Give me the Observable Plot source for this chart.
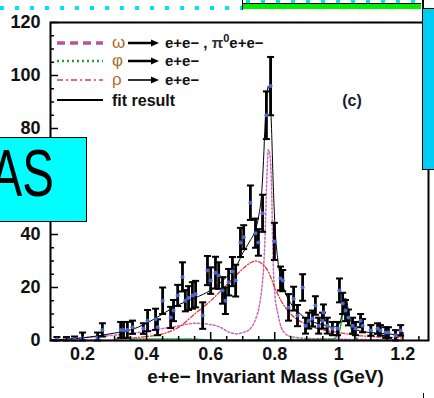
<!DOCTYPE html>
<html>
<head>
<meta charset="utf-8">
<script src="https://cdn.jsdelivr.net/npm/d3@7"></script>
<script src="https://cdn.jsdelivr.net/npm/@observablehq/plot@0.6"></script>
<style>
  html, body { margin: 0; padding: 0; background: #fff; }
  #wrap { position: relative; width: 434px; height: 398px; overflow: hidden; font-family: "Liberation Sans", Arial, sans-serif; }
  #wrap > * { position: absolute; }
</style>
</head>
<body>
<div id="wrap"></div>
<script>
// ---- data points (mass in GeV, counts, error) ----
const massPts = [0.12,0.15,0.175,0.200,0.247,0.262,0.319,0.328,0.340,0.356,0.390,0.403,0.428,0.434,0.450,0.475,0.484,0.497,0.512,0.521,0.531,0.543,0.553,0.575,0.590,0.600,0.615,0.625,0.637,0.646,0.656,0.668,0.678,0.693,0.703,0.724,0.740,0.749,0.762,0.774,0.787,0.799,0.818,0.825,0.843,0.859,0.871,0.887,0.896,0.906,0.918,0.927,0.937,0.949,0.952,0.964,0.980,0.996,1.002,1.012,1.021,1.030,1.043,1.052,1.068,1.074,1.100,1.121,1.130,1.146,1.155,1.177,1.193];
const countPts = [0.5,0.5,0.5,1,1,4,4,4,4,5,4.5,7.5,8,5,15,8.7,11.3,17,24,15,16,17,17.5,9.4,26.4,22.6,25.6,24.5,18.9,15,22,26,22.6,37,39,52,40.5,37,48,85,96,37.4,23.4,22.6,12.5,15.8,9.4,20,5.6,7.5,8.3,13.2,5.6,7.5,10.6,5.6,4.5,4.5,18.9,14,11.3,8.7,5.6,4.5,7.5,5.6,3.8,4.5,3.8,3,3,1.9,3.8];
const errPts = [0.8,0.8,1,2,2,2.5,3,3,3,2.5,2,4,4,3,5,4,4,4,5.5,4,4.5,5,5,5,5.5,5,6,5,5,5,5,5.5,6,5.5,4.5,6.5,5.5,5,7,9,11,7,4.5,4,5,4.5,4,5,3,3,3,3.5,3,3,3,3,2.5,2.5,4.5,4,4,3,3,2.5,2.5,2.5,2,2,2,2,2,2,2];

// ---- fit result ----
const fitMass = [0.10,0.15,0.20,0.25,0.30,0.35,0.40,0.45,0.50,0.55,0.60,0.65,0.68,0.70,0.72,0.74,0.75,0.76,0.765,0.77,0.775,0.78,0.785,0.79,0.795,0.80,0.81,0.82,0.83,0.85,0.88,0.90,0.95,0.98,1.00,1.01,1.015,1.02,1.025,1.03,1.04,1.05,1.07,1.10,1.15,1.20];
const fitValue = [0.3,0.5,1,1.8,2.8,4,6.5,10,13.5,16,19,24,28,33,37,42,47,57,68,82,92,96,93,80,60,45,30,23,19,14,10,8,6,5,6,10,14,16,15,11,6.5,4.5,3.5,3,2.5,2];

// ---- omega -> e+e-, pi0 e+e- ----
const omegaMass = [0.10,0.20,0.30,0.40,0.45,0.50,0.55,0.60,0.63,0.66,0.68,0.70,0.72,0.74,0.75,0.76,0.765,0.77,0.775,0.78,0.785,0.79,0.795,0.80,0.81,0.82,0.83,0.85,0.90,1.00,1.20];
const omegaValue = [0,1,2,3.5,4.5,5.5,6.5,6,5,3,2.5,3,4,8,12,20,27,40,60,72,70,58,30,18,10,5,3,1.5,0.8,0.5,0.2];

// ---- rho -> e+e- ----
const rhoMass = [0.30,0.40,0.45,0.50,0.55,0.60,0.65,0.70,0.72,0.74,0.76,0.78,0.80,0.82,0.85,0.90,0.95,1.00,1.05,1.10,1.20];
const rhoValue = [0.5,1.5,2.5,5,10,15,21,27,29,30,29,26,20,15,10,6,4,3,2,1.5,1];

// ---- phi -> e+e- ----
const phiMass = [0.35,0.45,0.55,0.60,0.98,0.99,1.00,1.01,1.015,1.02,1.025,1.03,1.04,1.05,1.06];
const phiValue = [0.5,0.6,0.5,0.2,0.5,1,3,8,12,14,13,9,4,1.5,0.5];

// ---- baseline ----
const baseMass = [0.1, 1.2];
const baseValue = [0, 0];

// ---- ticks ----
const xTickValues = [0.2,0.4,0.6,0.8,1.0,1.2];
const xTickLabels = ["0.2","0.4","0.6","0.8","1","1.2"];
const xMinor = [0.15,0.25,0.3,0.35,0.45,0.5,0.55,0.65,0.7,0.75,0.85,0.9,0.95,1.05,1.1,1.15,1.25];
const yTickValues = [0,20,40,60,80,100,120];
const yMinor = [5,10,15,25,30,35,45,50,55,65,70,75,85,90,95,105,110,115];
const xLabel = "e+e\u2212 Invariant Mass (GeV)";

const points = massPts.map((m, i) => ({m, v: countPts[i], e: errPts[i]}));
const series = (ms, vs) => ms.map((m, i) => ({m, v: vs[i]}));
const fit = series(fitMass, fitValue);
const omega = series(omegaMass, omegaValue);
const rho = series(rhoMass, rhoValue);
const phi = series(phiMass, phiValue);
const base = series(baseMass, baseValue);

const capSymbol = { draw(ctx, size) { const w = Math.sqrt(size / Math.PI); ctx.moveTo(-w, 0); ctx.lineTo(w, 0); } };
const font = {fontSize: 18, fontWeight: "bold", fill: "#111"};

const chart = Plot.plot({
  width: 434, height: 398,
  marginLeft: 50, marginRight: 6, marginTop: 22, marginBottom: 58,
  style: {fontFamily: "Liberation Sans, Arial, sans-serif", background: "white", overflow: "visible"},
  x: {domain: [0.1, 1.28], axis: null},
  y: {domain: [0, 120], axis: null},
  marks: [
    Plot.line(base, {x: "m", y: "v", stroke: "#3355cc", strokeWidth: 1.5}),
    Plot.line(omega, {x: "m", y: "v", stroke: "#c868b8", strokeWidth: 1.5, strokeDasharray: "2,2", curve: "monotone-x"}),
    Plot.line(rho, {x: "m", y: "v", stroke: "#e83030", strokeWidth: 1.3, strokeDasharray: "4,2,1,2", curve: "monotone-x"}),
    Plot.line(phi, {x: "m", y: "v", stroke: "#229933", strokeWidth: 1.5, strokeDasharray: "1.5,1.5", curve: "monotone-x"}),
    Plot.line(fit, {x: "m", y: "v", stroke: "#000", strokeWidth: 1, curve: "monotone-x"}),
    Plot.ruleX(points, {x: "m", y1: d => Math.max(0, d.v - d.e), y2: d => d.v + d.e, stroke: "#000", strokeWidth: 2.8}),
    Plot.dot(points, {x: "m", y: d => d.v + d.e, symbol: capSymbol, r: 3.5, stroke: "#000", strokeWidth: 2, fill: "none"}),
    Plot.dot(points, {x: "m", y: d => Math.max(0, d.v - d.e), symbol: capSymbol, r: 3.5, stroke: "#000", strokeWidth: 2, fill: "none"}),
    Plot.dot(points, {x: "m", y: "v", r: 2, fill: "#4a68d0"}),
    Plot.frame({stroke: "#000", strokeWidth: 2}),
    Plot.axisY({ticks: yTickValues, label: null, tickSize: -8, tickPadding: 18, strokeWidth: 1.5, ...font}),
    Plot.axisY({ticks: yMinor, label: null, tickSize: -4, tickFormat: () => "", strokeWidth: 1.5}),
    Plot.axisX({ticks: xTickValues, label: null, tickSize: -8, tickPadding: 15, strokeWidth: 1.5, tickFormat: d => xTickLabels[xTickValues.indexOf(d)], ...font}),
    Plot.axisX({ticks: xMinor, label: null, tickSize: -4, tickFormat: () => "", strokeWidth: 1.5}),
    Plot.text([xLabel], {frameAnchor: "bottom", dx: 26, dy: 42, text: d => d, fontSize: 19, fontWeight: "bold", fill: "#111"})
  ]
});
const wrap = document.getElementById("wrap");
chart.style.left = "0px"; chart.style.top = "0px";
wrap.appendChild(chart);

// ---- legend (overlay svg) ----
const svg = d3.select(wrap).append("svg").attr("width", 434).attr("height", 398)
  .style("left", "0px").style("top", "0px").style("pointer-events", "none")
  .style("font-family", "Liberation Sans, Arial, sans-serif");
const legend = [
  {y: 43, stroke: "#b0559f", w: 3.5, dash: "8,5", greek: "\u03c9", rest: "e+e\u2212 , ", pi: true, arrowW: 2.5},
  {y: 61, stroke: "#2a9a40", w: 2.5, dash: "2,3", greek: "\u03c6", rest: "e+e\u2212", arrowW: 2.5},
  {y: 80, stroke: "#e03a3a", w: 1.5, dash: "6,3,2,3", greek: "\u03c1", rest: "e+e\u2212", arrowW: 1.6},
  {y: 100, stroke: "#000", w: 2, dash: null, text: "fit result"}
];
legend.forEach(r => {
  svg.append("line").attr("x1", 57).attr("x2", 103).attr("y1", r.y).attr("y2", r.y)
    .attr("stroke", r.stroke).attr("stroke-width", r.w).attr("stroke-dasharray", r.dash);
  if (r.text) {
    svg.append("text").attr("x", 112).attr("y", r.y + 5.5).attr("font-size", 16).attr("font-weight", "bold").attr("fill", "#111").text(r.text);
    return;
  }
  svg.append("text").attr("x", 112).attr("y", r.y + 5).attr("font-size", 17).attr("fill", "#b06a30").text(r.greek);
  svg.append("line").attr("x1", 128).attr("x2", 152).attr("y1", r.y).attr("y2", r.y).attr("stroke", "#000").attr("stroke-width", r.arrowW);
  svg.append("path").attr("d", `M151,${r.y - 3.5}L159,${r.y}L151,${r.y + 3.5}Z`).attr("fill", "#000");
  const t = svg.append("text").attr("x", 165).attr("y", r.y + 5).attr("font-size", 15).attr("font-weight", "bold").attr("fill", "#111");
  t.append("tspan").text(r.rest);
  if (r.pi) {
    t.append("tspan").attr("fill", "#333").text("\u03c0");
    t.append("tspan").attr("dy", -6).attr("font-size", 11).text("0");
    t.append("tspan").attr("dy", 6).text("e+e\u2212");
  }
});
svg.append("text").attr("x", 352).attr("y", 106).attr("text-anchor", "middle").attr("font-size", 16).attr("font-weight", "bold").attr("fill", "#1a1a3a").text("(c)");

// ---- slide overlays ----
function box(style) { const d = document.createElement("div"); Object.assign(d.style, style); wrap.appendChild(d); return d; }
box({left: "0px", top: "6px", width: "243px", height: "4px", background: "repeating-linear-gradient(90deg, #00e4f4 0 4px, transparent 4px 15px)"});
box({left: "246px", top: "0px", width: "175px", height: "3px", background: "repeating-linear-gradient(90deg, #00e4f4 0 4px, transparent 4px 15px)"});
box({left: "242px", top: "3px", width: "179px", height: "6px", background: "#00ee00", borderTop: "1.5px solid #000", boxSizing: "border-box"});
box({left: "241.5px", top: "0px", width: "1.5px", height: "10px", background: "#000"});
box({left: "422px", top: "0px", width: "1.5px", height: "9px", background: "#000"});
box({left: "422px", top: "8px", width: "14px", height: "162px", background: "#00cdf5", border: "1.5px solid #000", boxSizing: "border-box"});
box({left: "422.5px", top: "393px", width: "1.2px", height: "5px", background: "#000"});
const leftBox = box({left: "-2px", top: "137px", width: "89px", height: "85px", background: "#00ffff", border: "1.5px solid #000", boxSizing: "border-box", overflow: "hidden"});
leftBox.innerHTML = '<svg width="89" height="85" style="position:absolute;left:0;top:0"><text transform="translate(55,58) scale(0.72,1)" text-anchor="end" font-size="66" font-family="Liberation Sans, Arial, sans-serif" fill="#000">AS</text></svg>';
</script>
</body>
</html>
